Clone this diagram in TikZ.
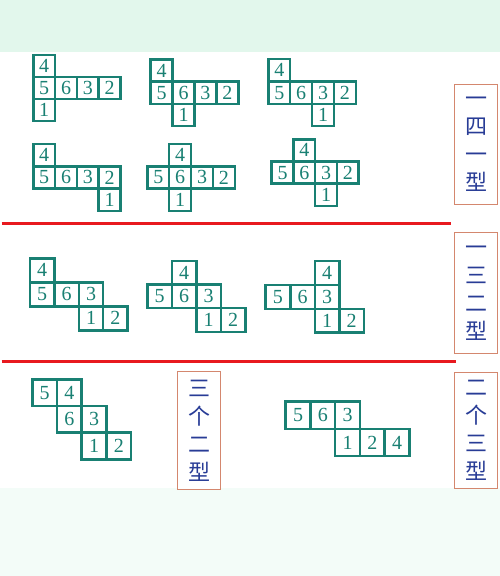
\documentclass[tikz,border=0pt]{standalone}
\usepackage{fontspec}
\setmainfont{Liberation Serif}
\newfontfamily\cjk{Noto Sans CJK SC}
\definecolor{netteal}{HTML}{198073}
\definecolor{typeblue}{HTML}{283C96}
\definecolor{boxbrown}{HTML}{D4876E}
\definecolor{linered}{HTML}{E8191F}
\definecolor{topmint}{HTML}{E2F7EC}
\definecolor{botmint}{HTML}{F3FCF8}
\tikzset{
	cell/.style={draw=netteal,line width=2.5pt,inner sep=0pt,text=netteal,
		font=\fontsize{20}{20}\selectfont},
	typebox/.style={draw=boxbrown,line width=1.4pt,fill=white,inner sep=0pt,
		minimum width=43pt,align=center,text=typeblue,
		font=\cjk\fontsize{22}{28}\selectfont},
	divider/.style={draw=linered,line width=3pt}
}
% one net: name, left, top, cell width, cell height, list col/row/number
\newcommand{\drawnet}[6]{%
	\foreach \c/\r/\n in {#6}
	\node[cell,minimum width=#4pt,minimum height=#5pt] (#1-\n)
	at ({#2+(\c+0.5)*#4},{#3+(\r+0.5)*#5}) {\n};
}
\begin{document}
\begin{tikzpicture}[x=1pt,y=-1pt]
		\useasboundingbox (0,0) rectangle (500,576);
		\fill[botmint] (0,0) rectangle (500,576);
		\fill[topmint] (0,0) rectangle (500,51.7);
		\fill[white] (0,51.7) rectangle (500,488);
		%
		% 1-4-1
		\drawnet{na}{33.3}{55}{21.8}{22}{0/0/4,0/1/5,1/1/6,2/1/3,3/1/2,0/2/1}
		\drawnet{nb}{150.7}{59.3}{21.9}{22.3}{0/0/4,0/1/5,1/1/6,2/1/3,3/1/2,1/2/1}
		\drawnet{nc}{268.3}{59}{21.9}{22.4}{0/0/4,0/1/5,1/1/6,2/1/3,3/1/2,2/2/1}
		\drawnet{nd}{33.3}{144}{21.8}{22.3}{0/0/4,0/1/5,1/1/6,2/1/3,3/1/2,3/2/1}
		\drawnet{ne}{147.3}{144}{21.9}{22.3}{1/0/4,0/1/5,1/1/6,2/1/3,3/1/2,1/2/1}
		\drawnet{nf}{271.7}{139.3}{21.75}{22.2}{1/0/4,0/1/5,1/1/6,2/1/3,3/1/2,2/2/1}
		%
		\node[typebox,minimum height=120pt] (ta) at (476,144.3) {一\\四\\一\\型};
		%
		\coordinate (ra1) at (1.7,223.3);  \coordinate (ra2) at (450.7,223.3);
		\draw[divider] (ra1) -- (ra2);
		%
		% 1-3-2
		\drawnet{ng}{30}{258.3}{24.4}{24}{0/0/4,0/1/5,1/1/6,2/1/3,2/2/1,3/2/2}
		\drawnet{nh}{147.3}{261}{24.5}{23.6}{1/0/4,0/1/5,1/1/6,2/1/3,2/2/1,3/2/2}
		\drawnet{ni}{265.7}{261}{24.55}{23.9}{2/0/4,0/1/5,1/1/6,2/1/3,2/2/1,3/2/2}
		%
		\node[typebox,minimum height=121pt] (tb) at (476,292.8) {一\\三\\二\\型};
		%
		\coordinate (rb1) at (1.7,361.7);  \coordinate (rb2) at (456,361.7);
		\draw[divider] (rb1) -- (rb2);
		%
		% 2-2-2 and 3-3
		\drawnet{nj}{32.3}{379.3}{24.7}{26.7}{0/0/5,1/0/4,1/1/6,2/1/3,2/2/1,3/2/2}
		\drawnet{nk}{285.7}{401.7}{24.75}{27.2}{0/0/5,1/0/6,2/0/3,2/1/1,3/1/2,4/1/4}
		%
		\node[typebox,minimum height=118pt] (tc) at (199,430.5) {三\\个\\二\\型};
		\node[typebox,minimum height=116pt] (td) at (476,430.3) {二\\个\\三\\型};
		%
\end{tikzpicture}
\end{document}
